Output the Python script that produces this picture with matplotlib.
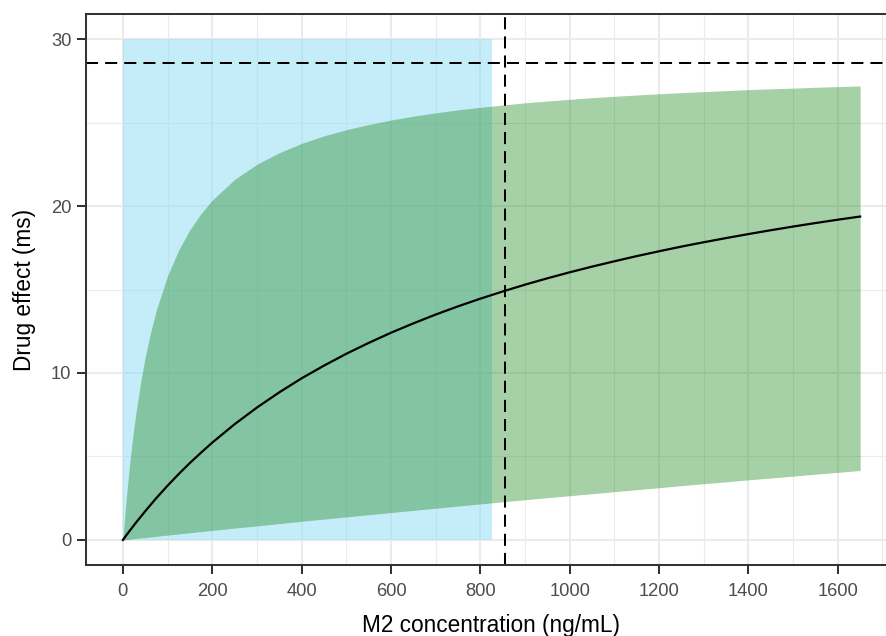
import numpy as np
import matplotlib.pyplot as plt

# ===================================================
# DATA
# ===================================================

conc = [0, 5, 10, 15, 20, 25, 30, 40, 50, 60, 75, 100, 125, 150, 175, 200,
        250, 300, 350, 400, 450, 500, 550, 600, 650, 700, 750, 800, 850,
        900, 950, 1000, 1050, 1100, 1150, 1200, 1250, 1300, 1350, 1400,
        1450, 1500, 1550, 1600, 1650]

effect_median = [0.00, 0.18, 0.36, 0.54, 0.71, 0.89, 1.06, 1.39, 1.72, 2.04,
                 2.51, 3.25, 3.95, 4.61, 5.23, 5.83, 6.93, 7.93, 8.84, 9.68,
                 10.44, 11.15, 11.80, 12.41, 12.97, 13.50, 13.99, 14.45,
                 14.88, 15.29, 15.67, 16.03, 16.37, 16.69, 17.00, 17.29,
                 17.57, 17.83, 18.08, 18.32, 18.55, 18.77, 18.98, 19.18,
                 19.37]

effect_upper = [0.00, 1.67, 3.16, 4.49, 5.69, 6.78, 7.76, 9.49, 10.95, 12.20,
                13.78, 15.82, 17.37, 18.58, 19.55, 20.35, 21.59, 22.50,
                23.19, 23.75, 24.20, 24.57, 24.88, 25.15, 25.38, 25.58,
                25.76, 25.91, 26.05, 26.18, 26.29, 26.39, 26.49, 26.57,
                26.65, 26.72, 26.79, 26.85, 26.91, 26.97, 27.02, 27.06,
                27.11, 27.15, 27.19]

effect_lower = [0.00, 0.01, 0.03, 0.04, 0.06, 0.07, 0.09, 0.12, 0.14, 0.17,
                0.22, 0.29, 0.36, 0.43, 0.50, 0.57, 0.71, 0.84, 0.98, 1.12,
                1.25, 1.38, 1.51, 1.64, 1.77, 1.90, 2.03, 2.16, 2.28, 2.41,
                2.53, 2.65, 2.77, 2.89, 3.01, 3.13, 3.25, 3.37, 3.48, 3.60,
                3.71, 3.82, 3.94, 4.05, 4.16]

# observed concentration window (blue box)
box_x = [0, 826]
box_y = [0, 30]

# reference lines
vline_x = 856
hline_y = 28.55

x_ticks = [0, 200, 400, 600, 800, 1000, 1200, 1400, 1600]
y_ticks = [0, 10, 20, 30]

# ===================================================
# PLOT
# ===================================================

plt.rcParams["font.family"] = ["Liberation Sans", "DejaVu Sans"]

fig = plt.figure(figsize=(8.87, 6.36), dpi=100)

# panel runs past the right edge of the canvas, as in the reference
ax = fig.add_axes([86 / 887, 71 / 636, 811 / 887, 551 / 636])

ax.set_xlim(-82.5, 1732.5)
ax.set_ylim(-1.5, 31.5)

# grid (theme_bw style)
ax.set_axisbelow(True)
ax.set_xticks(x_ticks)
ax.set_yticks(y_ticks)
ax.set_xticks(np.arange(100, 1800, 200), minor=True)
ax.set_yticks([5, 15, 25], minor=True)
ax.grid(which="major", color="#EBEBEB", linewidth=1.45)
ax.grid(which="minor", color="#EBEBEB", linewidth=0.85)

# blue box
ax.fill_between(
    box_x,
    box_y[0],
    box_y[1],
    color="#8DDDF5",
    alpha=0.5,
    linewidth=0
)

# ribbon
ax.fill_between(
    conc,
    effect_lower,
    effect_upper,
    color="forestgreen",
    alpha=0.4,
    linewidth=0
)

# median line
ax.plot(
    conc,
    effect_median,
    color="black",
    linewidth=1.6
)

ax.axvline(vline_x, color="black", linewidth=1.45, linestyle=(0, (6, 3.5)))
ax.axhline(hline_y, color="black", linewidth=1.45, linestyle=(0, (6, 3.5)))

# axes styling
for side in ax.spines.values():
    side.set_color("#333333")
    side.set_linewidth(1.45)
ax.spines["right"].set_visible(False)

ax.tick_params(
    which="major",
    length=6.5,
    width=1.45,
    color="#333333",
    labelcolor="#4D4D4D",
    labelsize=13.2
)
ax.tick_params(axis="x", pad=6.5)
ax.tick_params(axis="y", pad=4)
ax.tick_params(which="minor", length=0)

ax.set_xlabel("M2 concentration (ng/mL)", fontsize=16.3, color="black", labelpad=10)
ax.set_ylabel("Drug effect (ms)", fontsize=16.3, color="black", labelpad=11)

plt.savefig("out.png", dpi=100)
